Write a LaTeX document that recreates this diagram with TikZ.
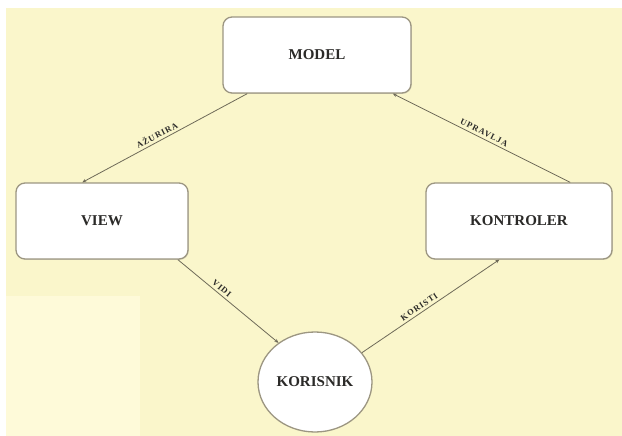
\documentclass[tikz,border=0pt]{standalone}
\usepackage{fontspec}
\setmainfont{Liberation Serif}
\usepackage[dvipsnames,svgnames]{xcolor}
\usetikzlibrary{arrows.meta}
\usetikzlibrary{shapes.geometric}
\usetikzlibrary{shadows}
\definecolor{pozadina}{HTML}{FAF6CB}
\definecolor{svjetlija}{HTML}{FEFAD9}
\definecolor{rub}{HTML}{9C9682}
\definecolor{linija}{HTML}{6E6A58}
\definecolor{tekst}{HTML}{2B2A28}
\tikzset{kutija/.style={draw=rub,line width=1.3pt,fill=white,rounded corners=9pt,minimum width=188pt,minimum height=76pt,inner sep=0pt,text=tekst,font=\fontsize{15}{16}\selectfont\bfseries,drop shadow={shadow xshift=0.8pt,shadow yshift=-0.8pt,opacity=0.3}}}
\tikzset{krug/.style={ellipse,draw=rub,line width=1.3pt,fill=white,minimum width=114pt,minimum height=100pt,inner sep=0pt,text=tekst,font=\fontsize{15}{16}\selectfont\bfseries}}
\tikzset{veza/.style={draw=linija,line width=0.8pt,-{Stealth[length=4pt,width=3.5pt]}}}
\tikzset{oznaka/.style={font=\fontsize{8.5}{9}\selectfont\bfseries\addfontfeatures{LetterSpace=12},text=tekst,sloped,above,inner sep=2.5pt}}

\begin{document}
\begin{tikzpicture}[x=1pt,y=-1pt] %koordinate u pikselima, y prema dolje
    \useasboundingbox (0,0) rectangle (622,436);
    % pozadina
    \fill[pozadina] (6,8) rectangle (622,436);
    \fill[svjetlija] (6,296) rectangle (140,436);
    % cvorovi
    \node[kutija] (model) at (317,55) {MODEL};
    \node[kutija,minimum width=172pt] (view) at (102,221) {VIEW};
    \node[kutija,minimum width=186pt] (kontroler) at (519,221) {KONTROLER};
    \node[krug] (korisnik) at (315,382) {KORISNIK};
    % veze
    \draw[veza] (model.-151) -- (view.117) node[oznaka,pos=0.53]{AŽURIRA};
    \draw[veza] (kontroler.37) -- (model.-27.5) node[oznaka,midway]{UPRAVLJA};
    \draw[veza] (view.-27) -- (korisnik.133) node[oznaka,pos=0.4]{VIDI};
    \draw[veza] (korisnik.32) -- (kontroler.-117) node[oznaka,pos=0.44]{KORISTI};
\end{tikzpicture}
\end{document}
